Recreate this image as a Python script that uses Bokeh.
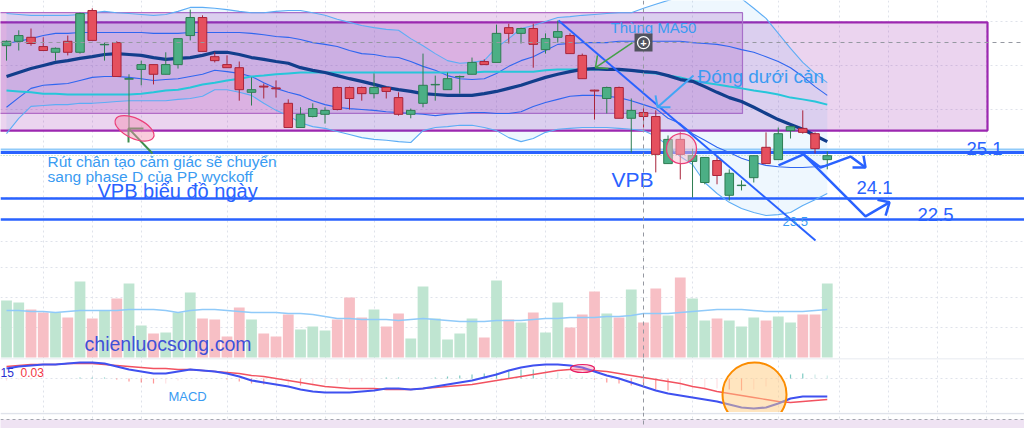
import numpy as np
from bokeh.plotting import figure
from bokeh.models import Range1d, FixedTicker, Grid
from bokeh.layouts import column
from bokeh.embed import file_html
from bokeh.resources import INLINE
from bokeh.core.properties import value

# ---------------- data ----------------
opens = [27.45, 27.55, 27.64, 27.43, 27.30, 27.55, 27.30, 28.25, 27.47, 27.52,
         26.69, 26.91, 27.02, 26.80, 27.02, 27.68, 28.09, 27.20, 27.02, 26.95,
         26.39, 26.53, 26.49, 26.14, 25.59, 25.84, 25.89, 26.50, 26.50, 26.50,
         26.36, 26.50, 26.27, 25.89, 26.14, 26.56, 26.45, 26.74, 26.80, 27.09,
         27.07, 27.86, 27.73, 27.84, 27.36, 27.64, 27.68, 27.23, 26.44, 26.25,
         26.50, 25.80, 25.93, 25.84, 24.77, 25.32, 24.82, 24.34, 24.84, 24.05,
         24.27, 24.45, 25.14, 24.86, 25.52, 25.57, 25.45, 24.86]
highs = [27.57, 27.80, 27.84, 27.64, 27.41, 27.68, 28.20, 28.30, 27.52, 27.55,
         26.80, 27.11, 27.02, 27.30, 27.61, 28.27, 28.14, 27.30, 27.23, 27.09,
         26.73, 26.59, 26.66, 26.23, 26.05, 26.14, 26.05, 26.52, 26.52, 26.52,
         26.82, 26.52, 26.39, 26.02, 27.27, 26.77, 26.84, 26.77, 27.18, 27.14,
         27.93, 27.95, 27.86, 27.95, 27.73, 28.02, 27.73, 27.27, 26.45, 26.52,
         26.52, 26.25, 26.05, 25.98, 25.41, 25.48, 25.11, 24.91, 24.93, 24.64,
         24.39, 24.95, 25.48, 25.59, 25.61, 25.98, 25.48, 25.05]
lows = [27.11, 27.34, 27.45, 27.34, 27.11, 27.23, 27.27, 27.57, 27.11, 26.75,
        25.52, 26.55, 26.57, 26.80, 26.93, 27.57, 27.32, 27.07, 26.95, 26.20,
        26.09, 26.25, 26.27, 25.59, 25.59, 25.82, 25.68, 25.98, 26.00, 26.20,
        26.25, 26.25, 25.86, 25.80, 26.05, 26.20, 26.45, 26.36, 26.80, 27.02,
        27.07, 27.50, 27.50, 26.95, 27.27, 27.52, 27.27, 26.70, 25.77, 25.91,
        25.80, 25.02, 25.59, 24.57, 24.77, 24.41, 24.00, 24.30, 24.30, 23.93,
        24.16, 24.34, 24.77, 24.86, 25.34, 25.45, 25.00, 24.64]
closes = [27.55, 27.68, 27.50, 27.34, 27.39, 27.30, 28.18, 27.57, 27.48, 26.75,
          26.70, 27.02, 26.80, 27.02, 27.61, 28.09, 27.32, 27.11, 26.95, 26.45,
          26.45, 26.51, 26.47, 25.59, 25.89, 26.02, 25.98, 26.00, 26.25, 26.36,
          26.50, 26.41, 25.89, 25.98, 26.55, 26.57, 26.70, 26.75, 27.07, 27.02,
          27.73, 27.73, 27.84, 27.48, 27.61, 27.77, 27.27, 26.70, 26.42, 26.50,
          25.80, 25.98, 25.84, 24.98, 25.32, 24.98, 24.95, 24.91, 24.50, 24.55,
          24.28, 24.95, 24.77, 25.45, 25.61, 25.48, 25.11, 24.95]

ma20 = [26.75, 26.84, 26.93, 27.00, 27.07, 27.11, 27.16, 27.20, 27.25, 27.27,
        27.25, 27.23, 27.18, 27.14, 27.16, 27.18, 27.23, 27.30, 27.30, 27.25,
        27.18, 27.14, 27.09, 27.05, 26.95, 26.89, 26.84, 26.77, 26.70, 26.64,
        26.57, 26.50, 26.45, 26.41, 26.36, 26.34, 26.32, 26.32, 26.32, 26.36,
        26.41, 26.48, 26.55, 26.64, 26.73, 26.80, 26.86, 26.91, 26.93, 26.91,
        26.91, 26.89, 26.86, 26.84, 26.77, 26.68, 26.64, 26.52, 26.39, 26.27,
        26.18, 26.05, 25.91, 25.77, 25.66, 25.55, 25.41, 25.27]
ma50 = [26.43, 26.41, 26.39, 26.36, 26.36, 26.34, 26.34, 26.34, 26.34, 26.34,
        26.34, 26.36, 26.39, 26.43, 26.45, 26.50, 26.57, 26.61, 26.66, 26.70,
        26.75, 26.77, 26.80, 26.82, 26.84, 26.84, 26.84, 26.84, 26.84, 26.84,
        26.84, 26.84, 26.84, 26.84, 26.84, 26.84, 26.84, 26.84, 26.84, 26.86,
        26.86, 26.86, 26.86, 26.86, 26.89, 26.91, 26.91, 26.91, 26.91, 26.91,
        26.89, 26.89, 26.84, 26.82, 26.77, 26.73, 26.66, 26.61, 26.57, 26.52,
        26.48, 26.43, 26.39, 26.34, 26.27, 26.23, 26.18, 26.11]
bb_up_in = [27.50, 27.55, 27.61, 27.68, 27.73, 27.73, 27.75, 27.75, 27.75, 27.75,
            27.75, 27.75, 27.73, 27.73, 27.73, 27.75, 27.75, 27.75, 27.75, 27.75,
            27.73, 27.70, 27.66, 27.64, 27.59, 27.52, 27.48, 27.43, 27.34, 27.27,
            27.25, 27.20, 27.18, 27.09, 26.98, 26.89, 26.77, 26.70, 26.68, 26.70,
            26.82, 26.98, 27.11, 27.20, 27.34, 27.48, 27.50, 27.52, 27.52, 27.52,
            27.55, 27.55, 27.55, 27.55, 27.55, 27.55, 27.52, 27.50, 27.48, 27.43,
            27.36, 27.30, 27.20, 27.09, 26.95, 26.75, 26.52, 26.32]
bb_up_out = [28.18, 28.16, 28.14, 28.14, 28.14, 28.14, 28.16, 28.20, 28.23, 28.20,
             28.18, 28.16, 28.14, 28.16, 28.23, 28.32, 28.32, 28.30, 28.27, 28.23,
             28.20, 28.20, 28.23, 28.25, 28.25, 28.20, 28.14, 28.05, 27.98, 27.91,
             27.86, 27.82, 27.80, 27.61, 27.45, 27.27, 27.11, 27.05, 27.07, 27.11,
             27.41, 27.61, 27.84, 27.91, 28.00, 28.09, 28.11, 28.14, 28.16, 28.18,
             28.20, 28.20, 28.30, 28.39, 28.48, 28.55, 28.61, 28.66, 28.66, 28.61,
             28.52, 28.30, 28.07, 27.73, 27.39, 27.07, 26.82, 26.61]
bb_lo_in = [26.05, 26.27, 26.48, 26.55, 26.57, 26.59, 26.66, 26.73, 26.75, 26.75,
            26.73, 26.70, 26.66, 26.68, 26.70, 26.75, 26.80, 26.89, 26.86, 26.82,
            26.75, 26.61, 26.48, 26.39, 26.32, 26.20, 26.11, 26.05, 26.02, 26.00,
            25.98, 25.95, 25.93, 25.91, 25.89, 25.86, 25.89, 25.91, 25.93, 25.93,
            25.91, 25.91, 25.95, 26.07, 26.16, 26.23, 26.30, 26.32, 26.32, 26.30,
            26.27, 26.20, 26.11, 26.02, 25.80, 25.68, 25.45, 25.30, 25.14, 25.02,
            24.89, 24.80, 24.73, 24.70, 24.68, 24.68, 24.70, 24.73]
bb_lo_out = [25.45, 25.80, 26.07, 26.09, 26.11, 26.11, 26.14, 26.14, 26.16, 26.18,
             26.20, 26.20, 26.20, 26.20, 26.23, 26.25, 26.30, 26.45, 26.45, 26.39,
             26.32, 26.14, 25.98, 25.86, 25.70, 25.61, 25.57, 25.50, 25.43, 25.36,
             25.32, 25.30, 25.27, 25.25, 25.52, 25.59, 25.61, 25.64, 25.64, 25.59,
             25.52, 25.36, 25.27, 25.34, 25.48, 25.55, 25.57, 25.59, 25.59, 25.59,
             25.57, 25.55, 25.52, 25.39, 25.18, 24.93, 24.75, 24.34, 24.09, 23.89,
             23.75, 23.66, 23.59, 23.61, 23.66, 23.82, 23.95, 24.09]

volumes = [11.4, 11.0, 9.6, 9.0, 9.0, 8.0, 15.2, 7.8, 9.4, 11.8,
           14.8, 6.4, 4.8, 5.0, 9.0, 13.0, 7.8, 7.6, 4.2, 10.0,
           7.6, 4.8, 4.2, 8.6, 5.6, 6.2, 5.4, 7.6, 12.0, 8.0,
           9.6, 6.2, 8.8, 3.8, 14.2, 7.8, 3.6, 4.8, 7.8, 4.0,
           15.4, 7.6, 7.0, 9.0, 5.0, 11.0, 6.0, 8.6, 13.2, 8.8,
           8.0, 13.6, 7.0, 13.8, 8.4, 16.0, 11.8, 7.4, 7.8, 7.4,
           6.2, 8.0, 7.4, 8.2, 7.0, 8.6, 8.6, 14.8]
vol_ma = [9.4, 9.4, 9.2, 9.2, 9.0, 9.2, 9.4, 9.4, 9.4, 9.4,
          9.6, 9.6, 9.6, 9.4, 9.0, 9.4, 9.6, 9.6, 9.4, 9.2,
          9.0, 9.0, 9.0, 8.8, 8.8, 8.6, 8.2, 7.8, 7.8, 7.6,
          7.6, 7.6, 7.4, 7.6, 7.8, 7.6, 7.4, 7.2, 7.2, 7.2,
          7.4, 7.4, 7.4, 7.6, 7.8, 7.8, 8.0, 8.0, 8.0, 8.2,
          8.2, 8.4, 8.8, 8.8, 8.8, 9.0, 9.2, 9.4, 9.6, 9.6,
          9.6, 9.4, 9.2, 9.2, 9.2, 9.2, 9.4, 9.6]

macd_line = [0.10, 0.12, 0.13, 0.14, 0.14, 0.15, 0.16, 0.16, 0.15, 0.12,
             0.09, 0.07, 0.05, 0.05, 0.07, 0.09, 0.08, 0.07, 0.05, 0.02,
             -0.02, -0.04, -0.06, -0.08, -0.11, -0.13, -0.14, -0.14, -0.14, -0.13,
             -0.12, -0.10, -0.10, -0.11, -0.10, -0.08, -0.06, -0.04, -0.02, 0.01,
             0.04, 0.08, 0.11, 0.13, 0.14, 0.14, 0.13, 0.11, 0.07, 0.03,
             0.00, -0.04, -0.08, -0.12, -0.15, -0.17, -0.19, -0.21, -0.23, -0.26,
             -0.29, -0.30, -0.29, -0.25, -0.20, -0.18, -0.18, -0.18]
signal_line = [0.12, 0.13, 0.14, 0.14, 0.14, 0.15, 0.15, 0.15, 0.14, 0.13,
               0.12, 0.11, 0.10, 0.10, 0.09, 0.09, 0.08, 0.07, 0.06, 0.05,
               0.03, 0.02, 0.00, -0.02, -0.04, -0.06, -0.08, -0.09, -0.10, -0.10,
               -0.10, -0.11, -0.11, -0.11, -0.10, -0.09, -0.08, -0.07, -0.06, -0.04,
               -0.02, 0.00, 0.02, 0.04, 0.06, 0.08, 0.09, 0.09, 0.08, 0.07,
               0.05, 0.03, 0.01, -0.01, -0.03, -0.05, -0.08, -0.10, -0.13, -0.15,
               -0.17, -0.19, -0.21, -0.23, -0.24, -0.23, -0.22, -0.21]
macd_hist = [-0.02, -0.01, -0.01, 0.00, 0.00, 0.00, 0.01, 0.01, 0.01, -0.01,
             -0.03, -0.04, -0.05, -0.05, -0.02, 0.00, 0.00, 0.00, -0.01, -0.03,
             -0.05, -0.06, -0.06, -0.06, -0.07, -0.07, -0.06, -0.05, -0.04, -0.03,
             -0.02, 0.01, 0.01, 0.00, 0.00, 0.01, 0.02, 0.03, 0.04, 0.05,
             0.06, 0.08, 0.09, 0.09, 0.08, 0.06, 0.04, 0.02, -0.01, -0.04,
             -0.05, -0.07, -0.09, -0.11, -0.12, -0.12, -0.11, -0.11, -0.10, -0.11,
             -0.12, -0.11, -0.08, -0.02, 0.04, 0.05, 0.04, 0.03]

# grid positions (bar index / price / volume / macd)
vgrid_idx = [3, 7, 11, 18, 22, 26, 30, 40, 44, 48, 56, 63, 68, 72, 76, 80]
price_grid = [23, 24, 25, 26, 27, 28]
vol_grid = [6, 12, 18]
macd_grid = [0.0]

# drawings (bar index, price)
zone_left = [-2.0, -2.0]
zone_right = [80.08, 60.08]
zone_top = [27.98, 28.20]
zone_bottom = [25.52, 25.91]
level_prices = [25.09, 25.02, 23.98, 23.50]
dotted_level = [24.95]
crosshair_idx = 52
crosshair_price = 27.52

trend_x = [45.06, 66.04]
trend_y = [28.02, 23.02]
zig1_x = [63.02, 65.06, 66.45, 68.90, 70.12]
zig1_y = [24.73, 24.98, 24.68, 24.93, 24.68]
zig1_head_x = [69.06, 70.12, 69.96]
zig1_head_y = [24.68, 24.68, 24.95]
zig2_x = [65.06, 70.12, 72.08]
zig2_y = [24.98, 23.57, 23.89]
zig2_head_x = [71.10, 72.08, 71.76]
zig2_head_y = [23.95, 23.89, 23.59]
arrow1_x = [11.92, 9.96]; arrow1_y = [25.00, 25.57]
arrow1_head_x = [11.18, 9.96, 9.96]; arrow1_head_y = [25.57, 25.57, 25.25]
arrow2_x = [51.10, 48.08]; arrow2_y = [27.52, 26.95]
arrow2_head_x = [48.24, 48.08, 49.14]; arrow2_head_y = [27.23, 26.95, 26.93]
arrow3_x = [56.08, 53.14]; arrow3_y = [26.77, 26.05]
arrow3_head_x = [52.98, 53.14, 54.20]; arrow3_head_y = [26.32, 26.05, 26.05]

# ---------------- figure setup ----------------
n = len(opens)
idx = np.arange(n)
o = np.array(opens); h = np.array(highs); l = np.array(lows); c = np.array(closes)
up = c >= o

W = 1024
X_RANGE = Range1d(-0.49, 83.1)
FONT = "Liberation Sans"
GRID_COLOR = "#dfe2ea"
BLUE = "#2962FF"
LBLUE = "#3A9BF2"
TEXT_SHIFT = -6


def make_fig(height, ymin, ymax, yticks):
    p = figure(width=W, height=height, x_range=X_RANGE, y_range=Range1d(ymin, ymax),
               x_axis_type=None, y_axis_type=None, output_backend="svg",
               toolbar_location=None, min_border=0, outline_line_color=None,
               background_fill_color="white", border_fill_color="white")
    p.add_layout(Grid(dimension=0, ticker=FixedTicker(ticks=vgrid_idx),
                      grid_line_color=GRID_COLOR, grid_line_dash="2 3"))
    if yticks:
        p.add_layout(Grid(dimension=1, ticker=FixedTicker(ticks=yticks),
                          grid_line_color=GRID_COLOR, grid_line_dash="2 3"))
    return p


def txt(p, x, y, t, size, color, align="left", baseline="alphabetic", style="normal",
        shift=TEXT_SHIFT):
    p.text(x=x, y=y, text=t, text_font=value(FONT), text_font_size=value(size),
           text_color=color, text_align=align, text_baseline=baseline,
           text_font_style=style, y_offset=shift)

# ---------------- price pane ----------------
pp = make_fig(257, 22.636, 28.477, price_grid)

pp.quad(left=zone_left, right=zone_right, top=zone_top, bottom=zone_bottom,
        fill_color="#9C27B0", fill_alpha=0.2,
        line_color=["#9C27B0", "#B26CC6"], line_width=[2.2, 1.2])
pp.varea(x=idx, y1=bb_lo_out, y2=bb_up_out, fill_color="#2196F3", fill_alpha=0.08)

pp.hspan(y=[level_prices[0]], line_color="#90CAF9", line_width=2)
pp.hspan(y=[level_prices[1]], line_color=BLUE, line_width=3)
pp.hspan(y=dotted_level, line_color="#9ED3A8", line_width=1, line_dash="1 2")
pp.hspan(y=level_prices[2:], line_color=BLUE, line_width=2.5)

pp.line(idx, bb_up_out, line_color="#5DADF5", line_width=1.1)
pp.line(idx, bb_lo_out, line_color="#5DADF5", line_width=1.1)
pp.line(idx, bb_up_in, line_color="#2F66F0", line_width=1.1)
pp.line(idx, bb_lo_in, line_color="#2F66F0", line_width=1.1)
pp.line(idx, ma50, line_color="#26C6DA", line_width=2)
pp.line(idx, ma20, line_color="#123E8C", line_width=3.2)

wick_col = np.where(up, "#2E7D52", "#A8243A")
body_fill = np.where(up, "#4CAF85", "#E5505E")
pp.segment(x0=idx, y0=h, x1=idx, y1=l, line_color=wick_col, line_width=1)
pp.vbar(x=idx, width=0.7, top=np.maximum(o, c), bottom=np.minimum(o, c),
        fill_color=body_fill, line_color=wick_col, line_width=1)

# drawings
pp.line(trend_x, trend_y, line_color=BLUE, line_width=2)
pp.line(zig1_x, zig1_y, line_color=BLUE, line_width=2.5)
pp.line(zig1_head_x, zig1_head_y, line_color=BLUE, line_width=2.5)
pp.line(zig2_x, zig2_y, line_color=BLUE, line_width=2.5)
pp.line(zig2_head_x, zig2_head_y, line_color=BLUE, line_width=2.5)
pp.line(arrow1_x, arrow1_y, line_color="#3E8E4E", line_width=2)
pp.line(arrow1_head_x, arrow1_head_y, line_color="#3E8E4E", line_width=2)
pp.line(arrow2_x, arrow2_y, line_color="#43A047", line_width=1.5)
pp.line(arrow2_head_x, arrow2_head_y, line_color="#43A047", line_width=1.5)
pp.line(arrow3_x, arrow3_y, line_color="#42A5F5", line_width=2)
pp.line(arrow3_head_x, arrow3_head_y, line_color="#42A5F5", line_width=2)

pp.ellipse(x=[10.45], y=[25.57], width=42, height=20, angle=-0.44,
           width_units="screen", height_units="screen",
           fill_color="#F48FB1", fill_alpha=0.45, line_color="#EC407A", line_width=1.2)
pp.ellipse(x=[55.10], y=[25.11], width=30, height=30,
           width_units="screen", height_units="screen",
           fill_color="#F8BBD0", fill_alpha=0.5, line_color="#EC407A", line_width=1.3)

txt(pp, [3.35, 3.35], [24.68, 24.34],
    ["Rút chân tạo cảm giác sẽ chuyển", "sang phase D của PP wyckoff"], "15.5px", LBLUE)
txt(pp, [7.43], [24.00], ["VPB biểu đồ ngày"], "20px", BLUE)
txt(pp, [49.39], [24.27], ["VPB"], "21px", BLUE)
txt(pp, [49.31], [27.73], ["Thùng MA50"], "15px", LBLUE)
txt(pp, [56.41], [26.61], ["Đóng dưới cản"], "19px", LBLUE)
txt(pp, [78.37, 69.39, 74.37], [24.98, 24.09, 23.48], ["25.1", "24.1", "22.5"], "18.5px", BLUE)
txt(pp, [63.35], [23.32], ["23.5"], "13px", LBLUE)

# crosshair
pp.hspan(y=[crosshair_price], line_color="#9598A1", line_width=1, line_dash="4 4")
pp.vspan(x=[crosshair_idx], line_color="#9598A1", line_width=1, line_dash="4 4")
pp.rect(x=[crosshair_idx], y=[crosshair_price], width=18, height=18,
        width_units="screen", height_units="screen", fill_color="#50535E", line_color=None)
pp.ellipse(x=[crosshair_idx], y=[crosshair_price], width=12, height=12,
           width_units="screen", height_units="screen", fill_color=None,
           line_color="white", line_width=1.3)
txt(pp, [crosshair_idx], [crosshair_price], ["+"], "11px", "white", align="center",
    baseline="middle", style="bold", shift=0)

# ---------------- volume pane ----------------
pv = make_fig(101, -0.2, 20.0, vol_grid)
pv.vbar(x=idx, width=0.88, top=volumes, bottom=0,
        fill_color=np.where(up, "#BFE5D1", "#F7BFC5"), line_color=None)
pv.line(idx, vol_ma, line_color="#90CAF9", line_width=1.5)
txt(pv, [6.37], [1.6], ["chienluocsong.com"], "19.5px", "#3F51D8")
pv.vspan(x=[crosshair_idx], line_color="#9598A1", line_width=1, line_dash="4 4")

# ---------------- MACD pane ----------------
pm = make_fig(54, -0.34, 0.20, macd_grid)
hist = np.array(macd_hist)
prev = np.r_[hist[0], hist[:-1]]
hcol = np.where(hist >= 0, np.where(hist >= prev, "#26A69A", "#B2DFDB"),
                np.where(hist < prev, "#FF5252", "#FFCDD2"))
pm.segment(x0=idx, y0=0, x1=idx, y1=hist, line_color=hcol, line_width=1.2, line_alpha=0.6)
pm.line(idx, signal_line, line_color="#F25260", line_width=1.3)
pm.line(idx, macd_line, line_color="#3F51F0", line_width=2.2)
pm.ellipse(x=[47.02], y=[0.10], width=24, height=8, width_units="screen",
           height_units="screen", fill_color="#F48FB1", fill_alpha=0.4,
           line_color="#E91E63", line_width=1.2)
pm.ellipse(x=[61.06], y=[-0.16], width=64, height=64, width_units="screen",
           height_units="screen", fill_color="#FFCC80", fill_alpha=0.5,
           line_color="#FB8C00", line_width=2)
txt(pm, [-0.49], [0.0], ["15"], "12px", "#2A2FD0")
txt(pm, [1.14], [0.0], ["0.03"], "12px", "#F23645")
txt(pm, [13.22], [-0.24], ["MACD"], "13px", LBLUE)
pm.vspan(x=[crosshair_idx], line_color="#9598A1", line_width=1, line_dash="4 4")
pm.hspan(y=[0.197], line_color="#E0E3EB", line_width=1.5)

# ---------------- bottom strip ----------------
ps = make_fig(16, 0, 16, None)
ps.quad(left=[-5], right=[100], top=[9], bottom=[0], fill_color="#EFE3F3", line_color=None)
ps.hspan(y=[9], line_color="#A3A6AF", line_width=1, line_dash="3 3")
ps.hspan(y=[15.4], line_color="#E0E3EB", line_width=1.5)
ps.vspan(x=[crosshair_idx], line_color="#9598A1", line_width=1, line_dash="4 4")

layout = column(pp, pv, pm, ps, spacing=0)
open("out.html", "w").write(file_html(layout, INLINE))
